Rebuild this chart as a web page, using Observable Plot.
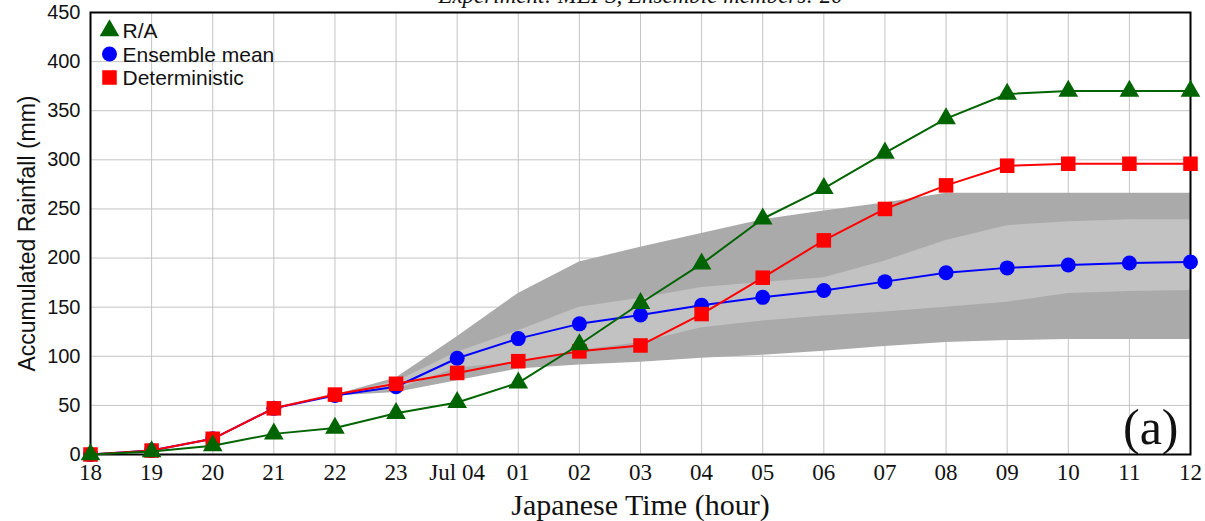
<!DOCTYPE html>
<html><head><meta charset="utf-8">
<script src="https://cdn.jsdelivr.net/npm/d3@7"></script>
<script src="https://cdn.jsdelivr.net/npm/@observablehq/plot@0.6"></script>
<style>
html,body{margin:0;padding:0;background:#fff;overflow:hidden}
#chart{position:relative;width:1205px;height:521px;overflow:hidden}
</style></head><body><div id="chart"></div>
<script>
const hourLabels = ["18","19","20","21","22","23","Jul 04","01","02","03","04","05","06","07","08","09","10","11","12"];
const yTicks = [0,50,100,150,200,250,300,350,400,450];
const radarAmedas = [0,3,9,21,27,42,53,73,112,154,194,240,271,307,342,367,370,370,370];
const ensembleMean = [0,4,16,47,60,69,98,118,133,142,152,160,167,176,185,190,193,195,196];
const deterministic = [0,4,16,47,61,72,83,95,105,111,143,180,218,250,274,294,296,296,296];
const outerLow  = [null,null,null,null,59.5,63,75,87,91,94,98,101,105,110,114,116,117,117,117];
const outerHigh = [null,null,null,null,60.5,78,120,164,196,211,225,239,248,256,266,266,266,266,266];
const innerLow  = [null,null,null,null,59.8,66,88,94,106,114,129,136,141,145,150,155,164,166,167];
const innerHigh = [null,null,null,null,60.2,74,104,126,150,159,170,175,180,197,218,233,237,239,239];
const legendLabels = ["R/A","Ensemble mean","Deterministic"];
const legendSymbols = ["triangle","circle","square"];
const legendColors = ["#006400","#0000ff","#ff0000"];
const titleText = "Experiment: MEPS, Ensemble members: 20";
const xLabel = "Japanese Time (hour)";
const yLabel = "Accumulated Rainfall (mm)";
const panelLabel = "(a)";

const idx = hourLabels.map((d, i) => i);
const rows = idx.map(i => ({
  i, ra: radarAmedas[i], mean: ensembleMean[i], det: deterministic[i],
  oLo: outerLow[i], oHi: outerHigh[i], iLo: innerLow[i], iHi: innerHigh[i]
}));
const symR = {triangle: 7.3, circle: 7.5, square: 8.2};

const legendMarks = legendLabels.flatMap((lab, k) => [
  Plot.dot([lab], {frameAnchor: "top-left", dx: 19, dy: 18 + k * 23.5, symbol: legendSymbols[k],
    r: symR[legendSymbols[k]], fill: legendColors[k], stroke: "none"}),
  Plot.text([lab], {frameAnchor: "top-left", dx: 32, dy: 19 + k * 23.5, text: d => d, textAnchor: "start",
    lineAnchor: "middle", fontFamily: "Liberation Sans, Arial, sans-serif", fontSize: 21, fill: "#111"})
]);

const chart = Plot.plot({
  width: 1205, height: 521,
  marginTop: 12, marginBottom: 67, marginLeft: 90, marginRight: 15,
  style: {background: "#fff", overflow: "hidden"},
  x: {domain: [0, 18]},
  y: {domain: [0, 450]},
  marks: [
    Plot.gridX(idx, {stroke: "#c4c4c4", strokeOpacity: 1, strokeWidth: 1}),
    Plot.gridY(yTicks, {stroke: "#c4c4c4", strokeOpacity: 1, strokeWidth: 1}),
    Plot.areaY(rows, {x: "i", y1: "oLo", y2: "oHi", fill: "#aaaaaa"}),
    Plot.areaY(rows, {x: "i", y1: "iLo", y2: "iHi", fill: "#c2c2c2"}),
    Plot.axisX(idx, {tickSize: 0, tickPadding: 9, tickFormat: i => hourLabels[i], label: null,
      fontFamily: "Liberation Serif, Times New Roman, serif", fontSize: 23, fill: "#111"}),
    Plot.axisY(yTicks, {tickSize: 0, tickPadding: 10, label: null,
      fontFamily: "Liberation Sans, Arial, sans-serif", fontSize: 20, fill: "#111"}),
    Plot.text([xLabel], {frameAnchor: "bottom", dy: 60, text: d => d, lineAnchor: "bottom", textAnchor: "middle",
      fontFamily: "Liberation Serif, Times New Roman, serif", fontSize: 30, fill: "#111"}),
    Plot.text([yLabel], {frameAnchor: "left", dx: -63, dy: 0, rotate: -90, text: d => d, textAnchor: "middle",
      fontFamily: "Liberation Sans, Arial, sans-serif", fontSize: 23, fill: "#111"}),
    Plot.text([titleText], {frameAnchor: "top", dy: -10, text: d => d, lineAnchor: "bottom", textAnchor: "middle",
      fontFamily: "Liberation Serif, Times New Roman, serif", fontStyle: "italic", fontSize: 23, fill: "#111"}),
    Plot.text([panelLabel], {frameAnchor: "bottom-right", dx: -12, dy: -11, text: d => d,
      textAnchor: "end", lineAnchor: "bottom",
      fontFamily: "Liberation Serif, Times New Roman, serif", fontSize: 50, fill: "#111"}),
    Plot.frame({stroke: "#000", strokeWidth: 2}),
    Plot.line(rows, {x: "i", y: "mean", stroke: "#0000ff", strokeWidth: 2}),
    Plot.dot(rows, {x: "i", y: "mean", symbol: "circle", r: symR.circle, fill: "#0000ff", stroke: "none"}),
    Plot.line(rows, {x: "i", y: "det", stroke: "#ff0000", strokeWidth: 2}),
    Plot.dot(rows, {x: "i", y: "det", symbol: "square", r: symR.square, fill: "#ff0000", stroke: "none"}),
    Plot.line(rows, {x: "i", y: "ra", stroke: "#006400", strokeWidth: 2}),
    Plot.dot(rows, {x: "i", y: "ra", symbol: "triangle", r: symR.triangle, fill: "#006400", stroke: "none"}),
    ...legendMarks
  ]
});
document.getElementById("chart").append(chart);
</script></body></html>
